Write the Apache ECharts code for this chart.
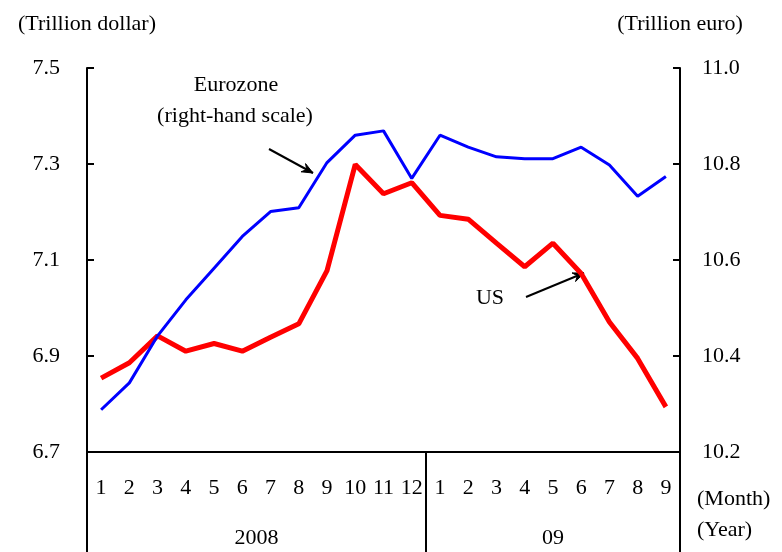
<!DOCTYPE html>
<html>
<head>
<meta charset="utf-8">
<script src="https://cdn.jsdelivr.net/npm/echarts@6/dist/echarts.min.js"></script>
<style>
  html, body { margin: 0; padding: 0; background: #fff; }
  #chart { width: 782px; height: 552px; }
</style>
</head>
<body>
<div id="chart"></div>
<script>
// months shown under the axis, grouped by year
const months2008 = ['1', '2', '3', '4', '5', '6', '7', '8', '9', '10', '11', '12'];
const months2009 = ['1', '2', '3', '4', '5', '6', '7', '8', '9'];
const yearLabels = ['2008', '09'];

// US, trillion dollar (left scale)
const usValues = [6.854, 6.886, 6.942, 6.910, 6.926, 6.910, 6.939, 6.967, 7.078, 7.299, 7.238, 7.261,
  7.193, 7.185, 7.135, 7.086, 7.135, 7.072, 6.971, 6.895, 6.794];
// Eurozone, trillion euro (right scale)
const eurozoneValues = [10.288, 10.344, 10.442, 10.517, 10.583, 10.649, 10.701, 10.709, 10.803, 10.860, 10.869, 10.770,
  10.860, 10.835, 10.815, 10.811, 10.811, 10.835, 10.798, 10.733, 10.774];

const dollarRange = [6.7, 7.5];
const euroRange = [10.2, 11.0];
const euroStep = 0.2;

const FONT = 'Liberation Serif';
const fs = 22;

const monthLabels = months2008.concat(months2009);
const yearSizes = [months2008.length, months2009.length];
const yearMid = [];
let acc = 0;
yearSizes.forEach(n => { yearMid.push(acc + n / 2); acc += n; });
const yearStarts = [0, months2008.length];

const chart = echarts.init(document.getElementById('chart'));

function arrow(x1, y1, x2, y2) {
  const a = Math.atan2(y2 - y1, x2 - x1);
  const len = 12, spread = 0.4;
  return [
    { type: 'line', shape: { x1: x1, y1: y1, x2: x2, y2: y2 }, style: { stroke: '#000', lineWidth: 2 } },
    {
      type: 'polygon',
      shape: { points: [
        [x2 - len * Math.cos(a - spread), y2 - len * Math.sin(a - spread)],
        [x2, y2],
        [x2 - len * Math.cos(a + spread), y2 - len * Math.sin(a + spread)],
        [x2 - len * 0.6 * Math.cos(a), y2 - len * 0.6 * Math.sin(a)]
      ] },
      style: { fill: '#000', stroke: '#000', lineWidth: 1 }
    }
  ];
}

const txt = { fontFamily: FONT, fontSize: fs, color: '#000' };
const gfont = fs + 'px ' + FONT;

chart.setOption({
  animation: false,
  grid: { left: 87, right: 102, top: 68, bottom: 100, outerBoundsMode: 'none' },
  xAxis: [
    {
      type: 'category',
      data: monthLabels,
      position: 'bottom',
      axisLine: { lineStyle: { color: '#000', width: 2 } },
      axisTick: {
        show: true,
        length: 100,
        interval: (i) => yearStarts.indexOf(i) >= 0,
        lineStyle: { color: '#000', width: 2 }
      },
      axisLabel: Object.assign({ interval: 0, margin: 25 }, txt),
      splitLine: { show: false }
    },
    {
      type: 'value',
      position: 'bottom',
      min: 0,
      max: monthLabels.length,
      interval: 0.5,
      axisLine: { show: false },
      axisTick: { show: false },
      splitLine: { show: false },
      axisLabel: Object.assign({
        margin: 75,
        formatter: (v) => {
          const i = yearMid.findIndex(m => Math.abs(m - v) < 1e-6);
          return i >= 0 ? yearLabels[i] : '';
        }
      }, txt)
    }
  ],
  yAxis: [
    {
      type: 'value',
      position: 'left',
      min: dollarRange[0],
      max: dollarRange[1],
      alignTicks: true,
      axisLine: { show: true, lineStyle: { color: '#000', width: 2 } },
      axisTick: { show: true, inside: true, length: 7, lineStyle: { color: '#000', width: 2 } },
      axisLabel: Object.assign({ margin: 27, formatter: (v) => v.toFixed(1) }, txt),
      splitLine: { show: false },
      name: '(Trillion dollar)',
      nameLocation: 'end',
      nameGap: 33,
      nameTextStyle: txt
    },
    {
      type: 'value',
      position: 'right',
      min: euroRange[0],
      max: euroRange[1],
      interval: euroStep,
      axisLine: { show: true, lineStyle: { color: '#000', width: 2 } },
      axisTick: { show: true, inside: true, length: 7, lineStyle: { color: '#000', width: 2 } },
      axisLabel: Object.assign({ margin: 22, formatter: (v) => v.toFixed(1) }, txt),
      splitLine: { show: false },
      name: '(Trillion euro)',
      nameLocation: 'end',
      nameGap: 33,
      nameTextStyle: txt
    }
  ],
  series: [
    {
      name: 'US',
      type: 'line',
      xAxisIndex: 0,
      yAxisIndex: 0,
      data: usValues,
      symbol: 'none',
      lineStyle: { color: '#ff0000', width: 5 },
      itemStyle: { color: '#ff0000' }
    },
    {
      name: 'Eurozone',
      type: 'line',
      xAxisIndex: 0,
      yAxisIndex: 1,
      data: eurozoneValues,
      symbol: 'none',
      lineStyle: { color: '#0000ff', width: 3 },
      itemStyle: { color: '#0000ff' }
    }
  ],
  graphic: [
    { type: 'text', x: 236, y: 85, style: { text: 'Eurozone', align: 'center', verticalAlign: 'middle', font: gfont, fill: '#000' } },
    { type: 'text', x: 235, y: 116, style: { text: '(right-hand scale)', align: 'center', verticalAlign: 'middle', font: gfont, fill: '#000' } },
    { type: 'text', x: 490, y: 298, style: { text: 'US', align: 'center', verticalAlign: 'middle', font: gfont, fill: '#000' } },
    { type: 'text', x: 697, y: 499, style: { text: '(Month)', align: 'left', verticalAlign: 'middle', font: gfont, fill: '#000' } },
    { type: 'text', x: 697, y: 530, style: { text: '(Year)', align: 'left', verticalAlign: 'middle', font: gfont, fill: '#000' } }
  ].concat(arrow(269, 149, 313, 173), arrow(526, 297, 584, 273))
});
</script>
</body>
</html>
